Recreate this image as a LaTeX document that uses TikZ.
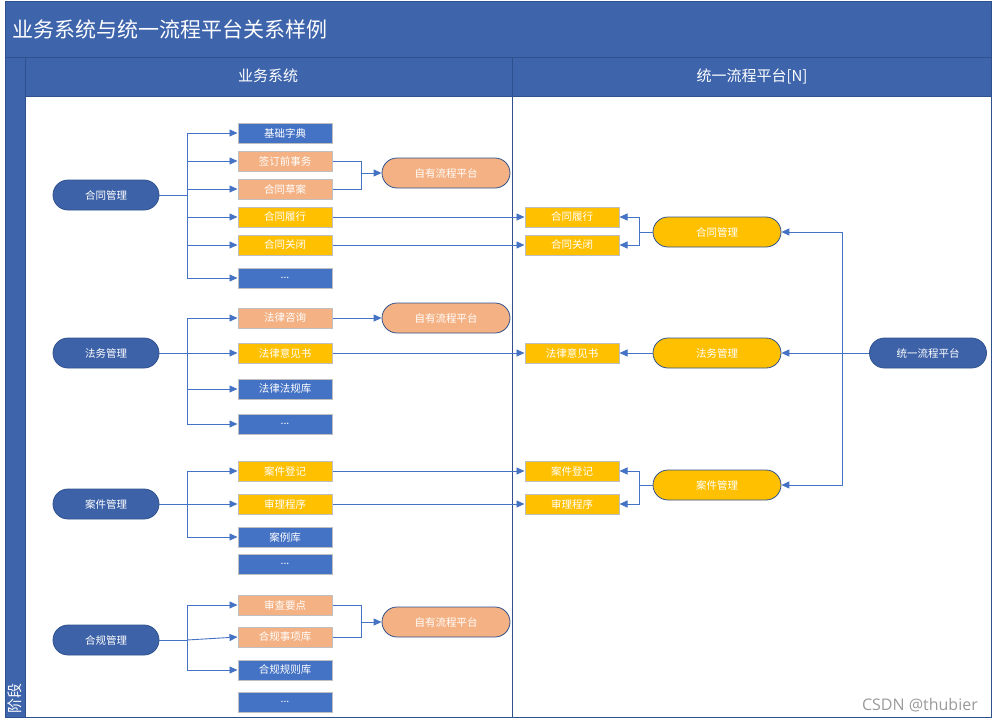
\documentclass[tikz,border=0pt]{standalone}
\usepackage{fontspec}
\newfontfamily\cjk{Noto Sans CJK SC}
\newfontfamily\wmfont{Open Sans}
\usetikzlibrary{arrows.meta}
\definecolor{hdr}{HTML}{3E64AC}
\definecolor{frm}{HTML}{2F528F}
\definecolor{dblue}{HTML}{3D62A8}
\definecolor{bblue}{HTML}{4472C4}
\definecolor{orng}{HTML}{F4B183}
\definecolor{yell}{HTML}{FFC000}
\definecolor{bgray}{HTML}{BFBFBF}
\definecolor{conn}{HTML}{4472C4}
\definecolor{wmgray}{HTML}{9A9A9A}
\tikzset{
  nodefont/.style={font=\cjk\fontsize{10.5}{12}\selectfont, text=white},
  stadium/.style={nodefont, draw=frm, line width=0.8pt, rounded corners=15pt,
     minimum width=106pt, minimum height=30pt, inner sep=0pt},
  dstad/.style={stadium, fill=dblue},
  wstad/.style={stadium, minimum width=128pt},
  ostad/.style={wstad, fill=orng},
  ystad/.style={wstad, fill=yell},
  tstad/.style={stadium, fill=dblue, minimum width=117pt},
  box/.style={nodefont, draw=bgray, line width=1pt, minimum width=94pt, minimum height=20pt, inner sep=0pt},
  bbox/.style={box, fill=bblue},
  obox/.style={box, fill=orng},
  ybox/.style={box, fill=yell},
  ln/.style={draw=conn, line width=0.9pt},
  arr/.style={ln, -{Triangle[length=8pt,width=7pt]}},
}
\begin{document}
\begin{tikzpicture}[x=1pt,y=-1pt]
\useasboundingbox (0,0) rectangle (994,723);
% frame
\fill[hdr] (5,1) rectangle (991,96);
\fill[hdr] (5,57) rectangle (25,717);
\draw[frm, line width=1pt] (5,1) rectangle (991,717);
\draw[frm, line width=1pt] (5,57) -- (991,57);
\draw[frm, line width=1pt] (25,57) -- (25,717);
\draw[frm, line width=1pt] (512,57) -- (512,717);
\draw[frm, line width=0.6pt] (25,96) -- (991,96);
\node[anchor=west, text=white, font=\cjk\fontsize{21}{24}\selectfont, inner sep=0pt] (title) at (12,29) {业务系统与统一流程平台关系样例};
\node[text=white, font=\cjk\fontsize{15}{18}\selectfont] (h1) at (268,76) {业务系统};
\node[text=white, font=\cjk\fontsize{15}{18}\selectfont] (h2) at (752,76) {统一流程平台[N]};
\node[text=white, font=\cjk\fontsize{15}{18}\selectfont, rotate=90, anchor=west, inner sep=0pt] (stage) at (15,714) {阶段};
\node[text=wmgray, font=\wmfont\fontsize{16}{18}\selectfont, anchor=east, inner sep=0pt] (wm) at (978,705) {CSDN @thubier};

% group 1
\node[dstad] (hg) at (106,195) {合同管理};
\node[bbox] (jc) at (285,133) {基础字典};
\node[obox] (qd) at (285,161) {签订前事务};
\node[obox] (ca) at (285,189) {合同草案};
\node[ybox] (lx) at (285,217) {合同履行};
\node[ybox] (gb) at (285,245) {合同关闭};
\node[bbox] (e1) at (285,278) {...};
\node[ostad] (zy1) at (446,173) {自有流程平台};
\coordinate (b1) at (187,195);
\draw[ln] (hg.east) -- (b1);
\foreach \t in {jc,qd,ca,lx,gb,e1} \draw[arr] (b1) |- (\t.west);
\coordinate (m1) at (361,173);
\draw[ln] (qd.east) -| (m1);
\draw[ln] (ca.east) -| (m1);
\draw[arr] (m1) -- (zy1.west);

% group 2
\node[dstad] (fw) at (106,353) {法务管理};
\node[obox] (zx) at (285,318) {法律咨询};
\node[ybox] (yj) at (285,353) {法律意见书};
\node[bbox] (fg) at (285,389) {法律法规库};
\node[bbox] (e2) at (285,424) {...};
\node[ostad] (zy2) at (446,318) {自有流程平台};
\coordinate (b2) at (187,353);
\draw[ln] (fw.east) -- (b2);
\foreach \t in {zx,yj,fg,e2} \draw[arr] (b2) |- (\t.west);
\draw[arr] (zx.east) -- (zy2.west);

% group 3
\node[dstad] (aj) at (106,504) {案件管理};
\node[ybox] (dj) at (285,471) {案件登记};
\node[ybox] (sl) at (285,504) {审理程序};
\node[bbox] (al) at (285,537) {案例库};
\node[bbox] (e3) at (285,564) {...};
\coordinate (b3) at (187,504);
\draw[ln] (aj.east) -- (b3);
\foreach \t in {dj,sl,al} \draw[arr] (b3) |- (\t.west);

% group 4
\node[dstad] (hgl) at (106,640) {合规管理};
\node[obox] (sc) at (285,605) {审查要点};
\node[obox] (sx) at (285,637) {合规事项库};
\node[bbox] (gz) at (285,670) {合规规则库};
\node[bbox] (e4) at (285,702) {...};
\node[ostad] (zy4) at (446,622) {自有流程平台};
\coordinate (b4) at (187,640);
\draw[ln] (hgl.east) -- (b4);
\draw[arr] (b4) |- (sc.west);
\draw[arr] (b4) |- (gz.west);
\draw[arr] (b4) -- (sx.west);
\coordinate (m4) at (361,622);
\draw[ln] (sc.east) -| (m4);
\draw[ln] (sx.east) -| (m4);
\draw[arr] (m4) -- (zy4.west);

% right lane
\node[ybox] (rlx) at (572,217) {合同履行};
\node[ybox] (rgb) at (572,245) {合同关闭};
\node[ybox] (ryj) at (572,353) {法律意见书};
\node[ybox] (rdj) at (572,471) {案件登记};
\node[ybox] (rsl) at (572,504) {审理程序};
\node[ystad] (rhg) at (717,232) {合同管理};
\node[ystad] (rfw) at (717,353) {法务管理};
\node[ystad] (raj) at (717,485) {案件管理};
\node[tstad] (tp) at (928,353) {统一流程平台};

\draw[arr] (lx.east) -- (rlx.west);
\draw[arr] (gb.east) -- (rgb.west);
\draw[arr] (yj.east) -- (ryj.west);
\draw[arr] (dj.east) -- (rdj.west);
\draw[arr] (sl.east) -- (rsl.west);

\coordinate (r1) at (639,232);
\draw[ln] (rhg.west) -- (r1);
\draw[arr] (r1) |- (rlx.east);
\draw[arr] (r1) |- (rgb.east);
\draw[arr] (rfw.west) -- (ryj.east);
\coordinate (r3) at (639,485);
\draw[ln] (raj.west) -- (r3);
\draw[arr] (r3) |- (rdj.east);
\draw[arr] (r3) |- (rsl.east);

\coordinate (t) at (842,353);
\draw[arr] (tp.west) -- (rfw.east);
\draw[arr] (t) |- (rhg.east);
\draw[arr] (t) |- (raj.east);
\end{tikzpicture}
\end{document}
